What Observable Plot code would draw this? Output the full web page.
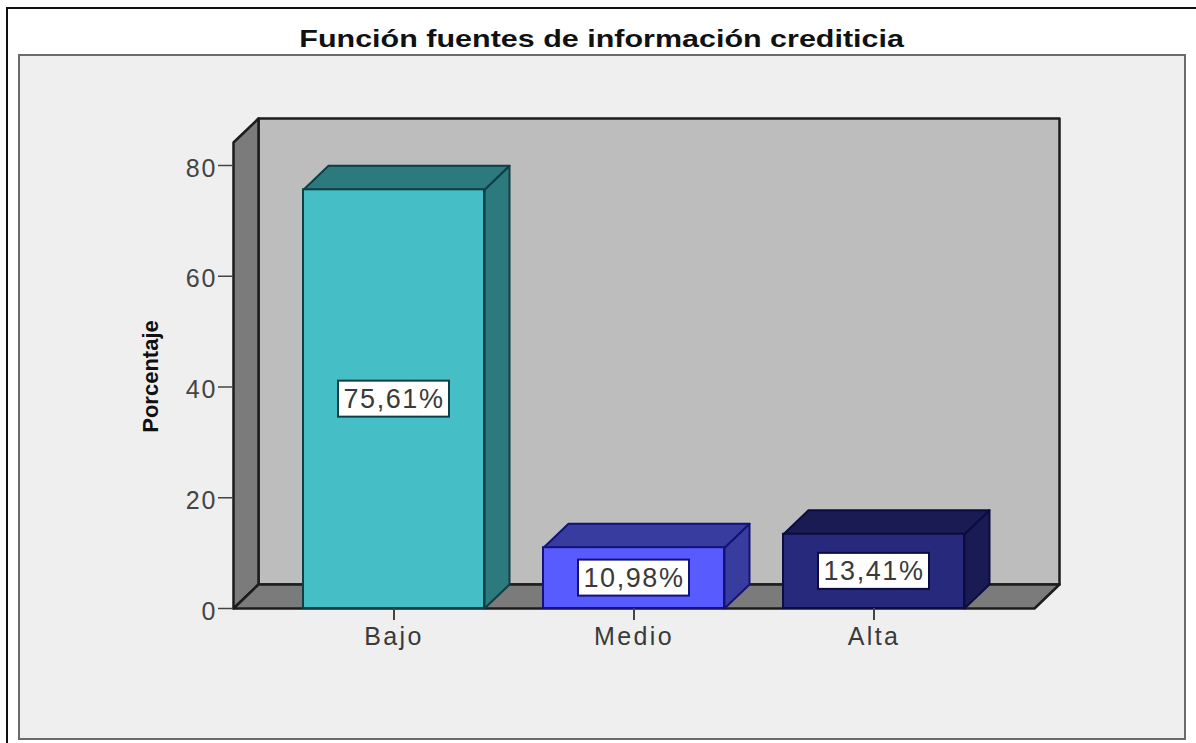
<!DOCTYPE html>
<html lang="es">
<head>
<meta charset="utf-8">
<script src="https://cdn.jsdelivr.net/npm/d3@7"></script>
<script src="https://cdn.jsdelivr.net/npm/@observablehq/plot@0.6"></script>
<style>
  html, body { margin: 0; background: #fff; }
  #page { position: relative; width: 1196px; height: 743px; overflow: hidden; font-family: "Liberation Sans", Arial, sans-serif; }
  #outer { position: absolute; left: 6px; top: 7px; width: 1300px; height: 900px; border: 2px solid #111; box-sizing: border-box; }
  #panel { position: absolute; left: 18px; top: 54px; width: 1168px; height: 686px; box-sizing: border-box; background: #efefef; border: 2px solid #6a6a6a; }
  #title { position: absolute; left: 0; width: 1203px; top: 24px; text-align: center; font-size: 24px; line-height: 30px; font-weight: bold; color: #111; transform: scaleX(1.27); transform-origin: 601px 0; white-space: nowrap; }
  #chart { position: absolute; left: 0; top: 0; }
  #chart svg { background: transparent; overflow: visible; }
  g[aria-label="y-axis tick label"] text { letter-spacing: 2px; }
  g[aria-label="x-axis tick label"] text { letter-spacing: 2.4px; }
</style>
</head>
<body>
<div id="page">
  <div id="outer"></div>
  <div id="panel"></div>
  <div id="title">Función fuentes de información crediticia</div>
  <div id="chart"></div>
</div>
<script>
const categories = ["Bajo", "Medio", "Alta"];
const values = [75.61, 10.98, 13.41];
const valueLabels = ["75,61%", "10,98%", "13,41%"];
const yTicks = [0, 20, 40, 60, 80];
const yLabel = "Porcentaje";

const frontColors = ["#45bfc5", "#585cff", "#27297c"];
const shadeColors = ["#2c7a7d", "#393c9f", "#1a1b52"];
const edgeColors = ["#0d3f45", "#12127a", "#0c0c40"];

// Scale set-up (index units horizontally, percent vertically)
const pxPerIndex = 240, pxPerPercent = 5.5375;
const xDomain = [-160.5 / pxPerIndex, 665.5 / pxPerIndex];
const yDomain = [0, 490 / pxPerPercent];
const depthX = 25 / pxPerIndex, depthY = 24 / pxPerPercent;
const barHalf = 90.5 / pxPerIndex;
const boxHalfX = 55.5 / pxPerIndex, boxHalfY = 18 / pxPerPercent;

const bars = categories.map((name, i) => ({ name, i, value: values[i], label: valueLabels[i] }));

const poly = (pts, fill, stroke, strokeWidth = 2) =>
  Plot.line(pts, { x: "0", y: "1", fill, stroke, strokeWidth, curve: "linear-closed", strokeLinejoin: "round" });

const [x0, x1] = xDomain, [, yTop] = yDomain;
const wallEdge = "#1c1c1c";

const marks = [
  // back wall, left wall, floor
  poly([[x0 + depthX, depthY], [x1, depthY], [x1, yTop], [x0 + depthX, yTop]], "#bdbdbd", wallEdge, 2.5),
  poly([[x0, 0], [x0 + depthX, depthY], [x0 + depthX, yTop], [x0, yTop - depthY]], "#7b7b7b", wallEdge, 2.5),
  poly([[x0, 0], [x0 + depthX, depthY], [x1, depthY], [x1 - depthX, 0]], "#7b7b7b", wallEdge, 2.5),
  // bars: side, top, front
  ...bars.flatMap(d => {
    const l = d.i - barHalf, r = d.i + barHalf, v = d.value;
    return [
      poly([[r, 0], [r + depthX, depthY], [r + depthX, v + depthY], [r, v]], shadeColors[d.i], edgeColors[d.i]),
      poly([[l, v], [r, v], [r + depthX, v + depthY], [l + depthX, v + depthY]], shadeColors[d.i], edgeColors[d.i])
    ];
  }),
  Plot.rect(bars, {
    x1: d => d.i - barHalf, x2: d => d.i + barHalf, y1: 0, y2: "value",
    fill: d => frontColors[d.i], stroke: d => edgeColors[d.i], strokeWidth: 2
  }),
  // value labels
  Plot.rect(bars, {
    x1: d => d.i - boxHalfX, x2: d => d.i + boxHalfX,
    y1: d => d.value / 2 - boxHalfY, y2: d => d.value / 2 + boxHalfY,
    fill: "#fff", stroke: d => edgeColors[d.i], strokeWidth: 2
  }),
  Plot.text(bars, {
    x: "i", y: d => d.value / 2, text: "label", fontSize: 27, fill: "#3a3a3a"
  }),
  // axes
  Plot.axisY({ ticks: yTicks, tickSize: 15, tickFormat: () => "", label: null, stroke: "#444", strokeWidth: 1.5 }),
  Plot.axisY({ ticks: yTicks, tickSize: 0, tickPadding: 16, dy: 3, fontSize: 25, label: null, color: "#444" }),
  Plot.axisX({ ticks: [0, 1, 2], tickFormat: i => categories[i], tickSize: 12, tickPadding: 7, fontSize: 25, label: null, stroke: "#444", color: "#3a3a3a", strokeWidth: 2 }),
  Plot.text([yLabel], {
    frameAnchor: "left", textAnchor: "middle", dx: -83, dy: 13, rotate: -90, text: d => d,
    fontSize: 22, fontWeight: "bold", fill: "#111"
  })
];

const chart = Plot.plot({
  width: 1196, height: 743,
  marginLeft: 233, marginRight: 137, marginTop: 118, marginBottom: 135,
  x: { type: "linear", domain: xDomain },
  y: { type: "linear", domain: yDomain },
  style: { fontFamily: '"Liberation Sans", Arial, sans-serif', background: "transparent" },
  marks
});
d3.select(chart).selectAll("text")
  .filter(function () { return valueLabels.includes(this.textContent); })
  .style("letter-spacing", "1.6px");
document.getElementById("chart").append(chart);
</script>
</body>
</html>
